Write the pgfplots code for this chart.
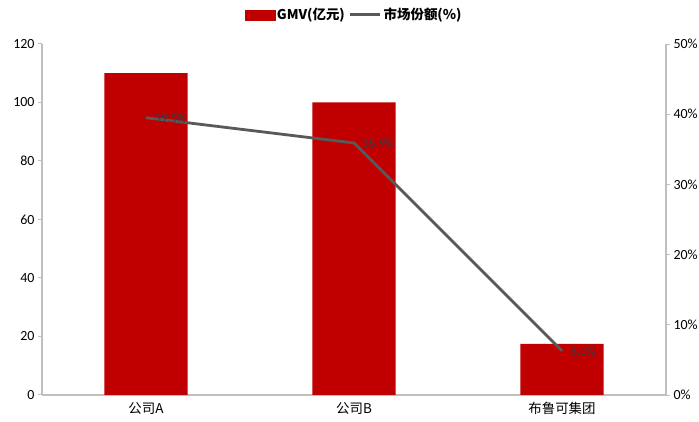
\documentclass[border=0pt]{standalone}
\usepackage{pgfplots}
\pgfplotsset{compat=1.18}
\usepackage{fontspec}
\setmainfont{Carlito}
\newfontfamily\cjk{Noto Sans CJK SC}
\definecolor{barred}{RGB}{192,0,0}
\definecolor{linegray}{RGB}{89,89,89}
\definecolor{axisgray}{RGB}{191,191,191}
\definecolor{labelgray}{RGB}{60,60,70}

\pgfplotsset{
  common/.style={
    at={(0,0)}, anchor=south west,
    scale only axis, width=624bp, height=351bp,
    xmin=-0.5, xmax=2.5,
    /pgf/number format/assume math mode=true,
    tick label style={font=\fontsize{14}{16}\selectfont, text=black},
    axis line style={axisgray, line width=1.3bp},
    tick style={axisgray, line width=1bp},
    tick align=outside,
    major tick length=4bp,
    minor tick length=6bp,
  }
}

\begin{document}
\begin{tikzpicture}
\useasboundingbox (-42bp,-27bp) rectangle (657bp,395bp);
\begin{axis}[
  common,
  ymin=0, ymax=120,
  ytick={0,20,...,120},
  xtick={0,1,2},
  xticklabels={{\cjk 公司A},{\cjk 公司B},{\cjk 布鲁可集团}},
  x tick style={draw=none},
  minor xtick={-0.5,0.5,1.5,2.5},
  minor x tick style={axisgray, line width=1bp},
  axis y line*=left, axis x line*=bottom,
  xticklabel style={yshift=0bp, font=\cjk\fontsize{13.5}{15}\selectfont},
]
\addplot[ybar, fill=barred, draw=none, bar width=0.4] coordinates {(0,110) (1,100) (2,17.5)};
\end{axis}
\begin{axis}[
  common,
  ymin=0, ymax=50,
  ytick={0,10,...,50},
  yticklabel={\pgfmathprintnumber{\tick}\%},
  axis y line*=right, axis x line=none,
  legend columns=2,
  legend style={at={(0.5,1.083)}, anchor=center, draw=none, fill=none,
    font=\cjk\bfseries\fontsize{13.5}{15}\selectfont,
    /tikz/every even column/.append style={column sep=2bp}},
]
\addlegendimage{legend image code/.code={\fill[barred] (0bp,-5bp) rectangle (30bp,5bp);}}
\addlegendentry{GMV(亿元)}
\addplot[linegray, line width=2.8bp, mark=none,
  legend image code/.code={\draw[linegray, line width=2.8bp] (0bp,0bp) -- (30bp,0bp);}]
  coordinates {(0,39.5) (1,35.9) (2,6.3)};
\addlegendentry{市场份额(\%)}
\addplot[draw=none, mark=none, forget plot,
  nodes near coords={\fontsize{13}{15}\selectfont\color{labelgray}\pgfmathprintnumber[fixed,precision=1,fixed zerofill]{\pgfplotspointmeta}\%},
  nodes near coords style={anchor=west, xshift=5bp}]
  coordinates {(0,39.5) (1,35.9) (2,6.3)};
\end{axis}
\end{tikzpicture}
\end{document}
